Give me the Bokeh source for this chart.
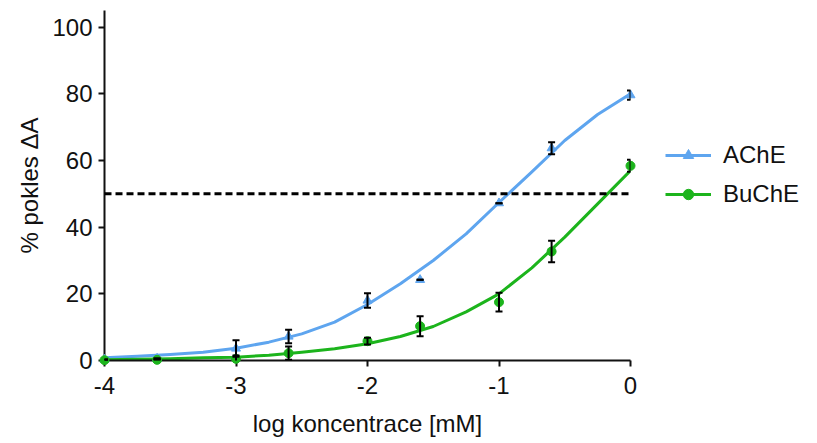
from bokeh.plotting import figure
from bokeh.models import Legend, LegendItem, Whisker, TeeHead, Span, ColumnDataSource, FixedTicker, Range1d
from bokeh.embed import file_html
from bokeh.resources import INLINE

# measured points
log_conc = [-4, -3.6, -3, -2.6, -2, -1.6, -1, -0.6, 0]
ache_y = [0.3, 0.6, 3.6, 7.2, 18.0, 24.2, 47.2, 63.7, 79.6]
ache_err = [0, 0, 2.5, 2.0, 2.2, 0, 0, 1.8, 1.4]
buche_y = [0.1, 0.2, 0.5, 2.2, 5.8, 10.3, 17.5, 32.7, 58.4]
buche_err = [0, 0, 1.0, 2.0, 1.0, 3.0, 2.8, 3.2, 1.8]

# fitted curves
curve_x = [-4, -3.75, -3.5, -3.25, -3, -2.75, -2.5, -2.25, -2, -1.75, -1.5, -1.25, -1, -0.75, -0.5, -0.25, 0]
ache_curve = [0.8, 1.3, 1.8, 2.5, 3.7, 5.5, 8.0, 11.5, 16.8, 23.0, 30.0, 38.0, 47.4, 56.6, 66.0, 73.8, 80.0]
buche_curve = [0.2, 0.35, 0.5, 0.8, 1.0, 1.6, 2.5, 3.5, 5.0, 7.2, 10.2, 14.6, 20.0, 27.8, 37.0, 47.0, 57.0]

threshold = 50
x_ticks = [-4, -3, -2, -1, 0]
x_tick_labels = ["-4", "-3", "-2", "-1", "0"]
y_ticks = [0, 20, 40, 60, 80, 100]

BLUE = "#5ea5ef"
GREEN = "#1cb41c"
FONT = "Liberation Sans"

p = figure(frame_width=526, frame_height=350, output_backend="svg", toolbar_location=None,
           x_range=Range1d(-4, 0), y_range=Range1d(0, 105),
           min_border_left=104, min_border_right=187, min_border_top=10, min_border_bottom=83)
p.grid.visible = False
p.outline_line_color = None
p.background_fill_color = "white"
p.border_fill_color = "white"

for ax in (p.xaxis[0], p.yaxis[0]):
    ax.axis_line_width = 2
    ax.axis_line_color = "#111111"
    ax.major_tick_line_width = 2
    ax.major_tick_line_color = "#111111"
    ax.major_tick_out = 6
    ax.major_tick_in = 0
    ax.minor_tick_line_color = None
    ax.major_label_text_font = FONT
    ax.major_label_text_font_size = "24px"
    ax.major_label_text_color = "#111111"
    ax.axis_label_text_font = FONT
    ax.axis_label_text_font_size = "24px"
    ax.axis_label_text_font_style = "normal"
    ax.axis_label_text_color = "#111111"

p.xaxis.ticker = FixedTicker(ticks=x_ticks)
p.xaxis.major_label_overrides = dict(zip(x_ticks, x_tick_labels))
p.yaxis.ticker = FixedTicker(ticks=y_ticks)
p.xaxis.axis_label = "log koncentrace [mM]"
p.yaxis.axis_label = "% pokles ΔA"
p.xaxis.major_label_standoff = 10
p.yaxis.major_label_standoff = 6
p.xaxis.axis_label_standoff = 13
p.yaxis.axis_label_standoff = 6

p.add_layout(Span(location=threshold, dimension="width", line_color="black",
                  line_width=3, line_dash="7 4"))

l1 = p.line(curve_x, ache_curve, line_color=BLUE, line_width=3, line_join="round")
l2 = p.line(curve_x, buche_curve, line_color=GREEN, line_width=3, line_join="round")

sa = ColumnDataSource(dict(x=log_conc, y=ache_y,
                           lo=[a - b for a, b in zip(ache_y, ache_err)],
                           hi=[a + b for a, b in zip(ache_y, ache_err)]))
sb = ColumnDataSource(dict(x=log_conc, y=buche_y,
                           lo=[a - b for a, b in zip(buche_y, buche_err)],
                           hi=[a + b for a, b in zip(buche_y, buche_err)]))

m1 = p.scatter("x", "y", source=sa, marker="triangle", size=9, color=BLUE, level="overlay")
m2 = p.scatter("x", "y", source=sb, marker="circle", size=9, color=GREEN, level="overlay")

for s in (sa, sb):
    w = Whisker(base="x", lower="lo", upper="hi", source=s, level="overlay",
                line_color="black", line_width=2,
                upper_head=TeeHead(size=7, line_color="black", line_width=2),
                lower_head=TeeHead(size=7, line_color="black", line_width=2))
    p.add_layout(w)

legend = Legend(items=[LegendItem(label="AChE", renderers=[l1, m1]),
                       LegendItem(label="BuChE", renderers=[l2, m2])],
                location=(35, 152), orientation="vertical",
                label_text_font=FONT, label_text_font_size="24px", label_text_color="#111111",
                glyph_width=46, glyph_height=26, spacing=11, label_standoff=12,
                padding=0, margin=0, border_line_alpha=0, background_fill_alpha=0)
p.add_layout(legend, "right")

open("out.html", "w").write(file_html(p, INLINE))
